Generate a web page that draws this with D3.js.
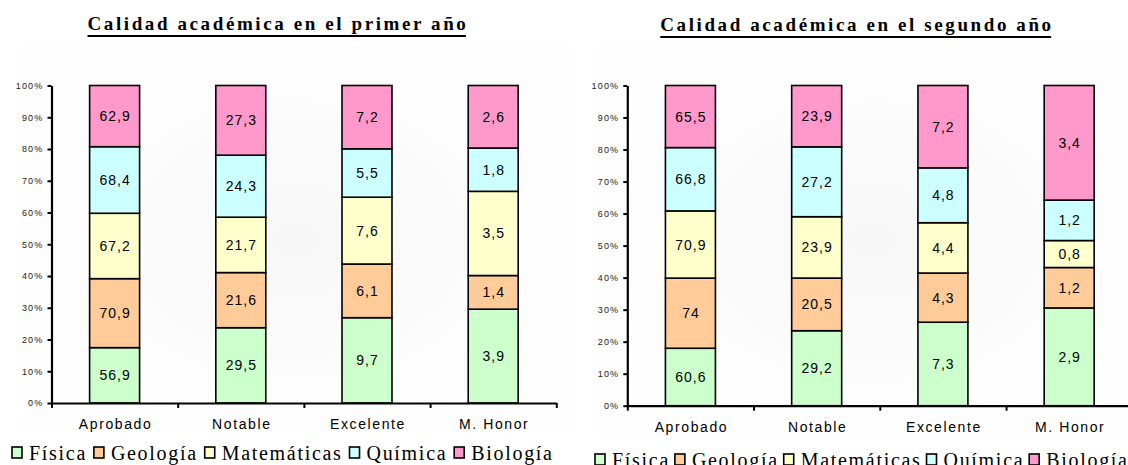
<!DOCTYPE html>
<html lang="es">
<head>
    <meta charset="UTF-8">
    <title>Calidad académica</title>
    <style>
        body { margin: 0; background: #fff; }
        svg { display: block; }
    </style>
</head>
<body>
    <script src="https://cdn.jsdelivr.net/npm/d3@7"></script>
    <script>
        // datos
        var categorias = ['Aprobado', 'Notable', 'Excelente', 'M. Honor'];
        var asignaturas = ['Física', 'Geología', 'Matemáticas', 'Química', 'Biología'];
        var colores = ['#ccffcc', '#ffcc99', '#ffffcc', '#ccffff', '#ff99cc'];
        var ticksY = [0, 0.1, 0.2, 0.3, 0.4, 0.5, 0.6, 0.7, 0.8, 0.9, 1];

        // primer año: una fila por categoría, columnas = asignaturas
        var primerAnio = [
            [56.9, 70.9, 67.2, 68.4, 62.9],
            [29.5, 21.6, 21.7, 24.3, 27.3],
            [9.7, 6.1, 7.6, 5.5, 7.2],
            [3.9, 1.4, 3.5, 1.8, 2.6]
        ];
        // segundo año
        var segundoAnio = [
            [60.6, 74, 70.9, 66.8, 65.5],
            [29.2, 20.5, 23.9, 27.2, 23.9],
            [7.3, 4.3, 4.4, 4.8, 7.2],
            [2.9, 1.2, 0.8, 1.2, 3.4]
        ];

        var width = 1128, height = 465;
        var svg = d3.select('body').append('svg')
            .attr('width', width)
            .attr('height', height);

        // fondo suave
        var defs = svg.append('defs');
        var grad = defs.append('radialGradient').attr('id', 'fondo');
        grad.append('stop').attr('offset', '0%').attr('stop-color', '#f7f7f7');
        grad.append('stop').attr('offset', '100%').attr('stop-color', '#fefefe');

        var coma = function(v) { return String(v).replace('.', ','); };

        function dibujar(conf) {
            var g = svg.append('g');

            g.append('rect')
                .attr('x', conf.left - 30).attr('y', conf.top - 40)
                .attr('width', conf.w + 45).attr('height', conf.bottom - conf.top + 70)
                .attr('fill', 'url(#fondo)');

            // título subrayado
            var tit = g.append('text')
                .attr('x', conf.tituloX)
                .attr('y', conf.tituloY)
                .attr('text-anchor', 'middle')
                .style('font-family', '"Liberation Serif", "Times New Roman", serif')
                .style('font-weight', 'bold')
                .style('font-size', '19px')
                .style('letter-spacing', '2.6px')
                .text(conf.titulo);
            var bb = tit.node().getBBox();
            g.append('line')
                .attr('x1', bb.x).attr('x2', bb.x + bb.width - 2.6)
                .attr('y1', conf.tituloY + 6).attr('y2', conf.tituloY + 6)
                .attr('stroke', '#000').attr('stroke-width', 2);

            var x = d3.scaleBand()
                .domain(categorias)
                .range([conf.left, conf.left + conf.w])
                .paddingInner(0.604)
                .paddingOuter(0.302);
            var y = d3.scaleLinear()
                .domain([0, 1])
                .range([conf.bottom, conf.top]);

            // datos apilados normalizados
            var filas = conf.datos.map(function(fila, i) {
                var o = { cat: categorias[i] };
                var total = d3.sum(fila);
                asignaturas.forEach(function(a, j) { o[a] = fila[j] / total; o['v_' + a] = fila[j]; });
                return o;
            });
            var stack = d3.stack().keys(asignaturas);
            var series = stack(filas);

            var capa = g.selectAll('g.serie')
                .data(series)
                .enter()
                .append('g')
                .attr('class', 'serie')
                .attr('fill', function(d, i) { return colores[i]; });

            var seg = capa.selectAll('g')
                .data(function(d) { return d.map(function(p) { return { p: p, key: d.key }; }); })
                .enter()
                .append('g');

            seg.append('rect')
                .attr('x', function(d) { return x(d.p.data.cat); })
                .attr('y', function(d) { return y(d.p[1]); })
                .attr('width', x.bandwidth())
                .attr('height', function(d) { return y(d.p[0]) - y(d.p[1]); })
                .attr('stroke', '#000')
                .attr('stroke-width', 1.6);

            seg.append('text')
                .attr('x', function(d) { return x(d.p.data.cat) + x.bandwidth() / 2 + 0.5; })
                .attr('y', function(d) { return (y(d.p[0]) + y(d.p[1])) / 2 + 5; })
                .attr('text-anchor', 'middle')
                .attr('fill', '#000')
                .style('font-family', '"Liberation Sans", Arial, sans-serif')
                .style('font-size', '14px')
                .style('letter-spacing', '1px')
                .text(function(d) { return coma(d.p.data['v_' + d.key]); });

            // eje Y
            var ejeY = g.append('g')
                .attr('transform', 'translate(' + conf.left + ',0)')
                .call(d3.axisLeft(y).tickValues(ticksY).tickFormat(d3.format('.0%')).tickSize(4).tickSizeOuter(0));
            ejeY.select('.domain').attr('stroke-width', 2.2);
            ejeY.selectAll('.tick line').attr('stroke-width', 2);
            ejeY.selectAll('text')
                .attr('x', -8)
                .style('font-family', '"Liberation Sans", Arial, sans-serif')
                .style('font-size', '9px')
                .style('letter-spacing', '1.2px')
                .attr('fill', '#222');

            // eje X: marcas en los límites de categoría
            var limites = d3.scaleLinear().domain([0, categorias.length]).range([conf.left, conf.left + conf.w]);
            var ejeX = g.append('g')
                .attr('transform', 'translate(0,' + conf.bottom + ')')
                .call(d3.axisBottom(limites).tickValues(d3.range(categorias.length + 1)).tickFormat('').tickSize(5).tickSizeOuter(0));
            ejeX.select('.domain').attr('stroke-width', 2.2);
            ejeX.selectAll('.tick line').attr('stroke-width', 2);

            g.selectAll('text.cat')
                .data(categorias)
                .enter()
                .append('text')
                .attr('class', 'cat')
                .attr('x', function(d) { return x(d) + x.bandwidth() / 2 + 1; })
                .attr('y', conf.bottom + 26.3)
                .attr('text-anchor', 'middle')
                .style('font-family', '"Liberation Sans", Arial, sans-serif')
                .style('font-size', '14px')
                .style('letter-spacing', '1.6px')
                .text(function(d) { return d; });

            // leyenda
            var ley = g.append('g');
            var items = [];
            var anchoTexto = 0;
            asignaturas.forEach(function(a, i) {
                var it = ley.append('g');
                it.append('rect')
                    .attr('x', 0).attr('y', -13)
                    .attr('width', 10).attr('height', 11)
                    .attr('fill', colores[i])
                    .attr('stroke', '#000').attr('stroke-width', 1.6);
                var t = it.append('text')
                    .attr('x', 17).attr('y', 0)
                    .style('font-family', '"Liberation Serif", "Times New Roman", serif')
                    .style('font-size', '20px')
                    .style('letter-spacing', '1.7px')
                    .text(a);
                var w = 17 + t.node().getComputedTextLength() - 1.7;
                items.push({ g: it, w: w });
                anchoTexto += w;
            });
            var hueco = (conf.leyendaW - anchoTexto) / (items.length - 1);
            var posX = 0;
            items.forEach(function(d) {
                d.g.attr('transform', 'translate(' + posX + ',0)');
                posX += d.w + hueco;
            });
            ley.attr('transform', 'translate(' + conf.leyendaX + ',' + conf.leyendaY + ')');
        }

        dibujar({
            titulo: 'Calidad académica en el primer año',
            tituloX: 278, tituloY: 30,
            datos: primerAnio,
            left: 51.5, w: 504.8, top: 85.5, bottom: 403,
            leyendaX: 12, leyendaW: 540, leyendaY: 460
        });
        dibujar({
            titulo: 'Calidad académica en el segundo año',
            tituloX: 857, tituloY: 31,
            datos: segundoAnio,
            left: 627.3, w: 505, top: 85.5, bottom: 405.7,
            leyendaX: 595, leyendaW: 532, leyendaY: 467
        });
    </script>
</body>
</html>
